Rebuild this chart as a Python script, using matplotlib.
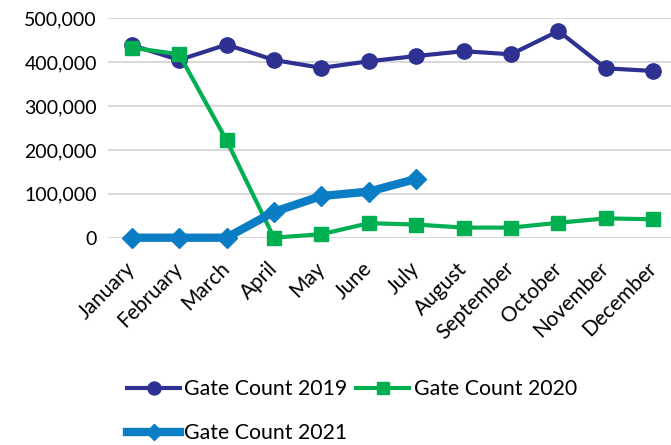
import matplotlib
matplotlib.use("Agg")
import matplotlib.pyplot as plt
from matplotlib.ticker import FuncFormatter

months = ["January", "February", "March", "April", "May", "June", "July",
          "August", "September", "October", "November", "December"]
gate_2019 = [439000, 405000, 440000, 405000, 387000, 402000, 414000,
             425000, 418000, 471000, 386000, 380000]
gate_2020 = [433000, 418000, 222000, 0, 8000, 33000, 30000,
             23000, 23000, 34000, 44000, 42000]
gate_2021 = [0, 0, 0, 59000, 95000, 105000, 134000]
yticks = [0, 100000, 200000, 300000, 400000, 500000]

plt.rcParams['font.family'] = ['Lato', 'DejaVu Sans']

fig = plt.figure(figsize=(6.71, 4.45), dpi=100)
W, H = 671, 445
left, right, top, bottom = 108, 677, 18.3, 237.7
ax = fig.add_axes([left / W, 1 - bottom / H, (right - left) / W, (bottom - top) / H])

x19 = list(range(len(gate_2019)))
x20 = list(range(len(gate_2020)))
x21 = list(range(len(gate_2021)))

l1, = ax.plot(x19, gate_2019, color="#2E3192", lw=3, marker="o", ms=11,
              label="Gate Count 2019", clip_on=False, zorder=3)
l2, = ax.plot(x20, gate_2020, color="#00B050", lw=3, marker="s", ms=10,
              label="Gate Count 2020", clip_on=False, zorder=4)
l3, = ax.plot(x21, gate_2021, color="#0A7DC4", lw=6, marker="D", ms=10,
              label="Gate Count 2021", clip_on=False, zorder=5)

ax.set_xlim(-0.5, len(months) - 0.5)
ax.set_ylim(0, 500000)
ax.set_yticks(yticks)
ax.yaxis.set_major_formatter(FuncFormatter(lambda v, p: f"{int(v):,}"))
ax.set_xticks(range(len(months)))
ax.set_xticklabels(months, rotation=45, ha="right", va="center",
                   rotation_mode="anchor", fontsize=15)
ax.tick_params(axis="y", labelsize=14, length=0, pad=8)
ax.tick_params(axis="x", length=0, pad=20)
ax.grid(axis="y", color="#D9D9D9", lw=1.5)
ax.set_axisbelow(True)
for s in ax.spines.values():
    s.set_visible(False)

leg = fig.legend(handles=[l1, l3, l2], loc="upper left",
                 bbox_to_anchor=(127 / W, 1 - 379 / H),
                 ncol=2, frameon=False, fontsize=15.3, handlelength=2.5,
                 handletextpad=0.2, columnspacing=0.4, labelspacing=1.15,
                 markerscale=0.85, borderaxespad=0, borderpad=0)

fig.savefig("out.png", dpi=100)
